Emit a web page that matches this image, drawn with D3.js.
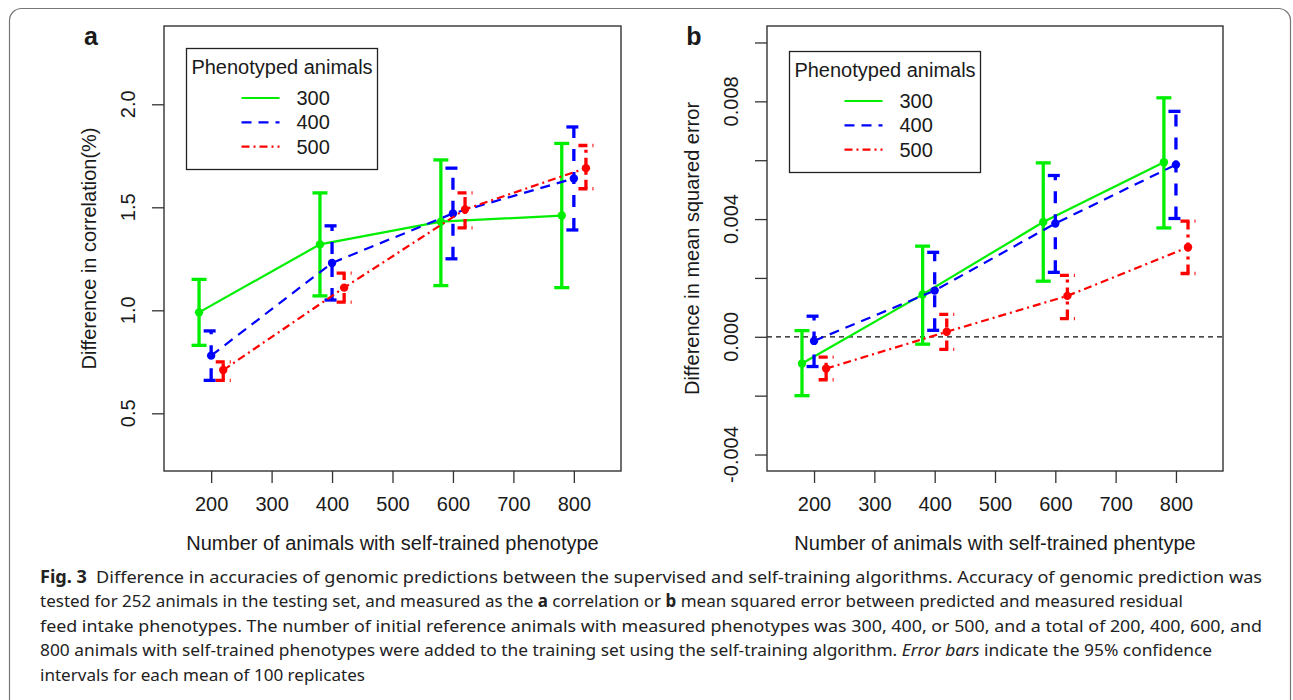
<!DOCTYPE html>
<html>
<head>
<meta charset="utf-8">
<script src="https://cdn.jsdelivr.net/npm/d3@7"></script>
<style>
  body { margin: 0; background: #fff; }
  svg text { font-family: "Liberation Sans", Arial, sans-serif; fill: #1a1a1a; }
  svg text.cap { font-family: "Noto Sans", "Open Sans", sans-serif; fill: #222; }
</style>
</head>
<body>
<div id="chart-area"></div>
<script>
// categories
var selfTrained = [200, 400, 600, 800];
var phenotyped = ["300", "400", "500"];

// panel a: difference in correlation (%)
var corrMean300 = [0.99, 1.32, 1.43, 1.46];
var corrLow300  = [0.83, 1.07, 1.12, 1.11];
var corrHigh300 = [1.15, 1.57, 1.73, 1.81];
var corrMean400 = [0.78, 1.23, 1.47, 1.64];
var corrLow400  = [0.66, 1.05, 1.25, 1.39];
var corrHigh400 = [0.90, 1.41, 1.69, 1.89];
var corrMean500 = [0.71, 1.11, 1.49, 1.69];
var corrLow500  = [0.66, 1.04, 1.40, 1.59];
var corrHigh500 = [0.75, 1.18, 1.57, 1.80];

// panel b: difference in mean squared error
var mseMean300 = [-0.00091, 0.00144, 0.00390, 0.00593];
var mseLow300  = [-0.00200, -0.00025, 0.00189, 0.00370];
var mseHigh300 = [0.00021, 0.00308, 0.00591, 0.00812];
var mseMean400 = [-0.00014, 0.00157, 0.00385, 0.00585];
var mseLow400  = [-0.00101, 0.00022, 0.00219, 0.00402];
var mseHigh400 = [0.00070, 0.00287, 0.00548, 0.00766];
var mseMean500 = [-0.00108, 0.00017, 0.00139, 0.00304];
var mseLow500  = [-0.00146, -0.00043, 0.00062, 0.00215];
var mseHigh500 = [-0.00069, 0.00076, 0.00209, 0.00393];

// axis ticks
var xTicks = [200, 300, 400, 500, 600, 700, 800];
var corrTicks = [0.5, 1.0, 1.5, 2.0];
var mseTicks = [-0.004, -0.002, 0, 0.002, 0.004, 0.006, 0.008, 0.010];
var mseLabelled = [-0.004, 0, 0.004, 0.008];

var W = 1293, H = 700;
var svg = d3.select("#chart-area").append("svg")
    .attr("width", W).attr("height", H);

// outer frame
svg.append("rect")
    .attr("x", 9.5).attr("y", 8.5)
    .attr("width", 1281).attr("height", 720)
    .attr("rx", 12)
    .attr("fill", "none").attr("stroke", "#777").attr("stroke-width", 1.2);

var styles = [
  { color: "#00ee00", dash: null,          barDash: null,          shift: -20 },
  { color: "#0000ff", dash: "10,7",        barDash: "12,11",       shift: 0 },
  { color: "#ff0000", dash: "8,4,2,4",     barDash: "9,5,3,5",     shift: 20 }
];

// pad limits like R (4%)
function padded(lo, hi) {
  var p = (hi - lo) * 0.04;
  return [lo - p, hi + p];
}

function drawPanel(o) {
  var g = svg.append("g");
  var x = d3.scaleLinear().domain(padded(150, 850)).range([o.left, o.right]);
  var y = d3.scaleLinear().domain(padded(o.ylim[0], o.ylim[1])).range([o.bottom, o.top]);

  // panel letter
  g.append("text")
      .attr("x", o.left - 73).attr("y", o.top + 19)
      .attr("font-size", "25px").attr("font-weight", "bold")
      .attr("text-anchor", "middle")
      .text(o.letter);

  // zero line
  if (o.zero) {
    g.append("line")
        .attr("x1", o.left).attr("x2", o.right)
        .attr("y1", y(0)).attr("y2", y(0))
        .attr("stroke", "#111").attr("stroke-width", 1.3)
        .attr("stroke-dasharray", "5,4");
  }

  // x axis
  var xAxis = g.append("g")
      .attr("transform", "translate(0," + o.bottom + ")")
      .call(d3.axisBottom(x).tickValues(xTicks).tickSize(12).tickPadding(14).tickFormat(d3.format("d")));
  xAxis.select(".domain").remove();
  xAxis.selectAll("line").attr("stroke", "#333").attr("stroke-width", 1.3);
  xAxis.selectAll("text").attr("font-size", "20px").attr("font-family", null).attr("fill", "#1a1a1a");

  // y axis
  var yAxis = g.append("g")
      .attr("transform", "translate(" + o.left + ",0)")
      .call(d3.axisLeft(y).tickValues(o.yTicks).tickSize(12).tickFormat(""));
  yAxis.select(".domain").remove();
  yAxis.selectAll("line").attr("stroke", "#333").attr("stroke-width", 1.3);

  g.selectAll(".ylab")
      .data(o.yLabels)
      .enter().append("text")
      .attr("class", "ylab")
      .attr("transform", function(d){ return "translate(" + (o.left - 29) + "," + y(d) + ") rotate(-90)"; })
      .attr("text-anchor", "middle")
      .attr("font-size", "20px")
      .text(function(d){ return o.fmt(d).replace("\u2212", "-"); });

  // axis titles
  g.append("text")
      .attr("x", (o.left + o.right) / 2).attr("y", o.bottom + 79)
      .attr("text-anchor", "middle").attr("font-size", "20px")
      .text(o.xTitle);
  g.append("text")
      .attr("transform", "translate(" + (o.left - 68) + "," + ((o.top + o.bottom) / 2) + ") rotate(-90)")
      .attr("text-anchor", "middle").attr("font-size", "20px")
      .text(o.yTitle);

  // series
  o.series.forEach(function(s, i) {
    var st = styles[i];
    var pts = selfTrained.map(function(c, j) {
      return { x: c + st.shift, m: s.mean[j], lo: s.low[j], hi: s.high[j] };
    });
    var line = d3.line().x(function(d){ return x(d.x); }).y(function(d){ return y(d.m); });
    g.append("path")
        .datum(pts)
        .attr("d", line)
        .attr("fill", "none")
        .attr("stroke", st.color).attr("stroke-width", 2.2)
        .attr("stroke-dasharray", st.dash);

    var bars = g.selectAll(".bar" + i).data(pts).enter().append("g").attr("class", "bar" + i);
    bars.append("line")
        .attr("x1", function(d){ return x(d.x); }).attr("x2", function(d){ return x(d.x); })
        .attr("y1", function(d){ return y(d.lo); }).attr("y2", function(d){ return y(d.hi); })
        .attr("stroke", st.color).attr("stroke-width", 3.3)
        .attr("stroke-dasharray", st.barDash);
    ["lo", "hi"].forEach(function(k) {
      bars.append("line")
          .attr("x1", function(d){ return x(d.x) - 7.5; }).attr("x2", function(d){ return x(d.x) + 7.5; })
          .attr("y1", function(d){ return y(d[k]); }).attr("y2", function(d){ return y(d[k]); })
          .attr("stroke", st.color).attr("stroke-width", 3.3)
          .attr("stroke-dasharray", st.barDash);
    });
    bars.append("circle")
        .attr("cx", function(d){ return x(d.x); })
        .attr("cy", function(d){ return y(d.m); })
        .attr("r", 4.2)
        .attr("fill", st.color);
  });

  // plot box
  g.append("rect")
      .attr("x", o.left).attr("y", o.top)
      .attr("width", o.right - o.left).attr("height", o.bottom - o.top)
      .attr("fill", "none").attr("stroke", "#333").attr("stroke-width", 1.4);

  // legend
  var lg = g.append("g").attr("transform", "translate(" + o.legX + "," + o.legY + ")");
  lg.append("rect")
      .attr("width", 191).attr("height", 121)
      .attr("fill", "#fff").attr("stroke", "#222").attr("stroke-width", 1.3);
  lg.append("text")
      .attr("x", 95.5).attr("y", 25.5)
      .attr("text-anchor", "middle").attr("font-size", "20px")
      .text("Phenotyped animals");
  phenotyped.forEach(function(p, i) {
    var yy = 49.5 + i * 24.3;
    lg.append("line")
        .attr("x1", 55).attr("x2", 93)
        .attr("y1", yy).attr("y2", yy)
        .attr("stroke", styles[i].color).attr("stroke-width", 2.2)
        .attr("stroke-dasharray", styles[i].dash);
    lg.append("text")
        .attr("x", 110).attr("y", yy + 7)
        .attr("font-size", "20px")
        .text(p);
  });
}

drawPanel({
  letter: "a", left: 164, right: 621, top: 26, bottom: 471,
  ylim: [0.3, 2.3], yTicks: corrTicks, yLabels: corrTicks,
  fmt: d3.format(".1f"), zero: false,
  xTitle: "Number of animals with self-trained phenotype",
  yTitle: "Difference in correlation(%)",
  legX: 186.5, legY: 48.5,
  series: [
    { mean: corrMean300, low: corrLow300, high: corrHigh300 },
    { mean: corrMean400, low: corrLow400, high: corrHigh400 },
    { mean: corrMean500, low: corrLow500, high: corrHigh500 }
  ]
});

drawPanel({
  letter: "b", left: 767, right: 1223, top: 26, bottom: 471,
  ylim: [-0.004, 0.010], yTicks: mseTicks, yLabels: mseLabelled,
  fmt: d3.format(".3f"), zero: true,
  xTitle: "Number of animals with self-trained phentype",
  yTitle: "Difference in mean squared error",
  legX: 789.5, legY: 51.5,
  series: [
    { mean: mseMean300, low: mseLow300, high: mseHigh300 },
    { mean: mseMean400, low: mseLow400, high: mseHigh400 },
    { mean: mseMean500, low: mseLow500, high: mseHigh500 }
  ]
});

// caption
var capLines = [
  { w: 1222, parts: [["Fig. 3", "bold"], ["\u2002Difference in accuracies of genomic predictions between the supervised and self-training algorithms. Accuracy of genomic prediction was", ""]] },
  { w: 1143, parts: [["tested for 252 animals in the testing set, and measured as the ", ""], ["a", "bold"], [" correlation or ", ""], ["b", "bold"], [" mean squared error between predicted and measured residual", ""]] },
  { w: 1222, parts: [["feed intake phenotypes. The number of initial reference animals with measured phenotypes was 300, 400, or 500, and a total of 200, 400, 600, and", ""]] },
  { w: 1172, parts: [["800 animals with self-trained phenotypes were added to the training set using the self-training algorithm. ", ""], ["Error bars", "italic"], [" indicate the 95% confidence", ""]] },
  { w: 325, parts: [["intervals for each mean of 100 replicates", ""]] }
];
capLines.forEach(function(l, i) {
  var t = svg.append("text")
      .attr("class", "cap")
      .attr("x", 40).attr("y", 583 + i * 24.4)
      .attr("font-size", "17px")
      .attr("textLength", l.w)
      .attr("lengthAdjust", "spacingAndGlyphs");
  l.parts.forEach(function(p) {
    var ts = t.append("tspan").text(p[0]);
    if (p[1] === "bold") ts.attr("font-weight", "bold");
    if (p[1] === "italic") ts.attr("font-style", "italic");
  });
});
</script>
</body>
</html>
